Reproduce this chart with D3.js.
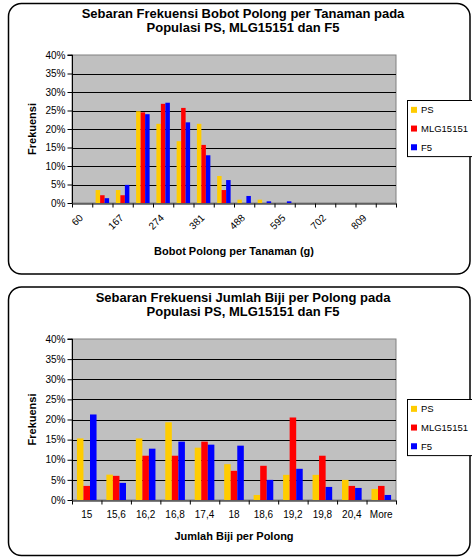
<!DOCTYPE html>
<html>
<head>
<meta charset="utf-8">
<script src="https://cdn.jsdelivr.net/npm/d3@7"></script>
<style>
  html, body { margin: 0; padding: 0; background: #fff; }
  svg { display: block; font-family: "Liberation Sans", Arial, sans-serif; }
</style>
</head>
<body>
<svg id="chart" width="472" height="558"></svg>
<script>
// Series names shared by both histograms
const seriesNames = ["PS", "MLG15151", "F5"];

// Bobot polong per tanaman (g): bin labels and frequencies (%)
const bobotBins = ["60", "113,5", "167", "220,5", "274", "327,5", "381", "434,5",
                   "488", "541,5", "595", "648,5", "702", "755,5", "809", "862,5"];
const bobotPS  = [0, 3.5, 3.5, 24.8, 21.4, 16.7, 21.4, 7.3, 0.9, 0.9, 0, 0, 0, 0, 0, 0];
const bobotMLG = [0, 2.1, 2.1, 24.5, 26.8, 25.7, 15.7, 3.5, 0, 0, 0, 0, 0, 0, 0, 0];
const bobotF5  = [0, 1.3, 4.9, 24.0, 27.1, 21.8, 12.9, 6.2, 1.9, 0.45, 0.45, 0, 0, 0, 0, 0];

// Jumlah biji per polong: bin labels and frequencies (%)
const bijiBins = ["15", "15,6", "16,2", "16,8", "17,4", "18", "18,6", "19,2", "19,8", "20,4", "More"];
const bijiPS  = [15.3, 6.3, 15.3, 19.3, 13.0, 8.9, 1.25, 6.25, 6.25, 5.0, 2.75];
const bijiMLG = [3.5, 6.0, 11.0, 11.0, 14.5, 7.25, 8.5, 20.5, 11.0, 3.5, 3.5];
const bijiF5  = [21.25, 4.25, 12.75, 14.5, 13.75, 13.5, 5.0, 7.75, 3.25, 3.0, 1.25];

// Frequency axis ticks (%)
const freqTicks = [0, 5, 10, 15, 20, 25, 30, 35, 40];

const seriesColors = ["#FFCC00", "#FF0000", "#0000FF"];

const svg = d3.select("#chart");

function drawHistogram(opt) {
  const g = svg.append("g");
  const L = opt.layout;

  // rounded chart frame
  g.append("rect")
    .attr("x", L.frame[0]).attr("y", L.frame[1])
    .attr("width", L.frame[2]).attr("height", L.frame[3])
    .attr("rx", 13).attr("ry", 13)
    .attr("fill", "#fff").attr("stroke", "#000").attr("stroke-width", 1.5);

  // title (two lines)
  opt.title.forEach((t, i) => {
    g.append("text")
      .attr("x", L.titleX).attr("y", L.titleY + i * 14)
      .attr("text-anchor", "middle")
      .attr("font-size", 13).attr("font-weight", "bold")
      .text(t);
  });

  const x = d3.scaleBand().domain(opt.bins).range([L.left, L.right]).padding(0);
  const xEdge = d3.scaleLinear().domain([0, opt.bins.length]).range([L.left, L.right]);
  const y = d3.scaleLinear().domain([0, 40]).range([L.bottom, L.top]);

  const bw = x.bandwidth();
  const groupW = bw * 2 / 3;
  const xSeries = d3.scaleBand().domain(d3.range(seriesNames.length))
    .range([(bw - groupW) / 2, (bw + groupW) / 2]).padding(0);

  // plot background
  g.append("rect")
    .attr("x", L.left).attr("y", L.top)
    .attr("width", L.right - L.left).attr("height", L.bottom - L.top)
    .attr("fill", "#C0C0C0").attr("stroke", "#808080").attr("stroke-width", 1);

  // horizontal gridlines
  g.append("g").selectAll("line")
    .data(freqTicks.filter(d => d > 0 && d < 40))
    .join("line")
    .attr("x1", L.left).attr("x2", L.right)
    .attr("y1", d => Math.round(y(d)) + 0.5).attr("y2", d => Math.round(y(d)) + 0.5)
    .attr("stroke", "#000").attr("stroke-width", 1);

  // bars
  const series = [opt.ps, opt.mlg, opt.f5];
  series.forEach((vals, si) => {
    g.append("g").selectAll("rect")
      .data(vals.map((v, i) => ({ bin: opt.bins[i], v })).filter(d => d.v > 0))
      .join("rect")
      .attr("x", d => x(d.bin) + xSeries(si))
      .attr("width", xSeries.bandwidth())
      .attr("y", d => y(d.v))
      .attr("height", d => y(0) - y(d.v))
      .attr("fill", seriesColors[si]);
  });

  // y axis
  const yAxis = g.append("g")
    .attr("transform", `translate(${L.left + 0.5},0)`)
    .call(d3.axisLeft(y).tickValues(freqTicks).tickFormat(d => d + "%").tickSize(5).tickPadding(2));
  yAxis.select(".domain").attr("stroke", "#000").attr("d", `M-5,${L.top}H0V${L.bottom}`);
  yAxis.selectAll("text").attr("font-size", 10).attr("font-family", null).attr("fill", "#000");

  // x axis: tick marks at bin edges
  const xAxis = g.append("g")
    .attr("transform", `translate(0,${L.bottom + 0.5})`)
    .call(d3.axisBottom(xEdge).tickValues(d3.range(opt.bins.length + 1)).tickFormat("").tickSize(4).tickSizeOuter(0));
  xAxis.select(".domain").attr("stroke", "#000");

  // x labels at bin centers
  const labelBins = opt.bins.filter((b, i) => i % opt.labelStep === 0);
  const lbl = g.append("g").selectAll("text").data(labelBins).join("text")
    .attr("font-size", 10).attr("fill", "#000").text(d => d);
  if (opt.rotate) {
    lbl.attr("text-anchor", "end").attr("dy", "0.35em")
      .attr("transform", d => `translate(${x(d) + bw / 2 - 1},${L.labelY}) rotate(-45)`);
  } else {
    lbl.attr("text-anchor", "middle")
      .attr("x", d => x(d) + bw / 2).attr("y", L.labelY);
  }

  // axis titles
  g.append("text")
    .attr("x", (L.left + L.right) / 2).attr("y", L.xTitleY)
    .attr("text-anchor", "middle").attr("font-size", 11).attr("font-weight", "bold")
    .text(opt.xTitle);
  g.append("text")
    .attr("transform", `translate(36,${(L.top + L.bottom) / 2}) rotate(-90)`)
    .attr("text-anchor", "middle").attr("font-size", 11).attr("font-weight", "bold")
    .text("Frekuensi");

  // legend
  const lg = g.append("g");
  lg.append("rect")
    .attr("x", 407.5).attr("y", L.legendTop + 0.5)
    .attr("width", 70).attr("height", L.legendStep * 3 + 0)
    .attr("fill", "#fff").attr("stroke", "#000").attr("stroke-width", 1);
  seriesNames.forEach((name, i) => {
    const cy = L.legendTop + L.legendStep * (i + 0.5) + 0.5;
    lg.append("rect").attr("x", 411).attr("y", cy - 3).attr("width", 6).attr("height", 6)
      .attr("fill", seriesColors[i]);
    lg.append("text").attr("x", 421).attr("y", cy).attr("dy", "0.35em")
      .attr("font-size", 9.5).text(name);
  });
}

drawHistogram({
  title: ["Sebaran Frekuensi Bobot Polong per Tanaman pada", "Populasi PS, MLG15151 dan F5"],
  xTitle: "Bobot Polong per Tanaman (g)",
  bins: bobotBins, ps: bobotPS, mlg: bobotMLG, f5: bobotF5,
  labelStep: 2, rotate: true,
  layout: {
    frame: [8.5, 3.5, 461.5, 270.5], titleX: 243, titleY: 18,
    left: 72, right: 396, top: 55, bottom: 203,
    labelY: 216, xTitleY: 255,
    legendTop: 100, legendStep: 18.7
  }
});

drawHistogram({
  title: ["Sebaran Frekuensi Jumlah Biji per Polong pada", "Populasi PS, MLG15151 dan F5"],
  xTitle: "Jumlah Biji per Polong",
  bins: bijiBins, ps: bijiPS, mlg: bijiMLG, f5: bijiF5,
  labelStep: 1, rotate: false,
  layout: {
    frame: [8.5, 287, 461.5, 268.5], titleX: 243, titleY: 302,
    left: 72, right: 396, top: 339, bottom: 500,
    labelY: 518, xTitleY: 540,
    legendTop: 399, legendStep: 18.7
  }
});
</script>
</body>
</html>
